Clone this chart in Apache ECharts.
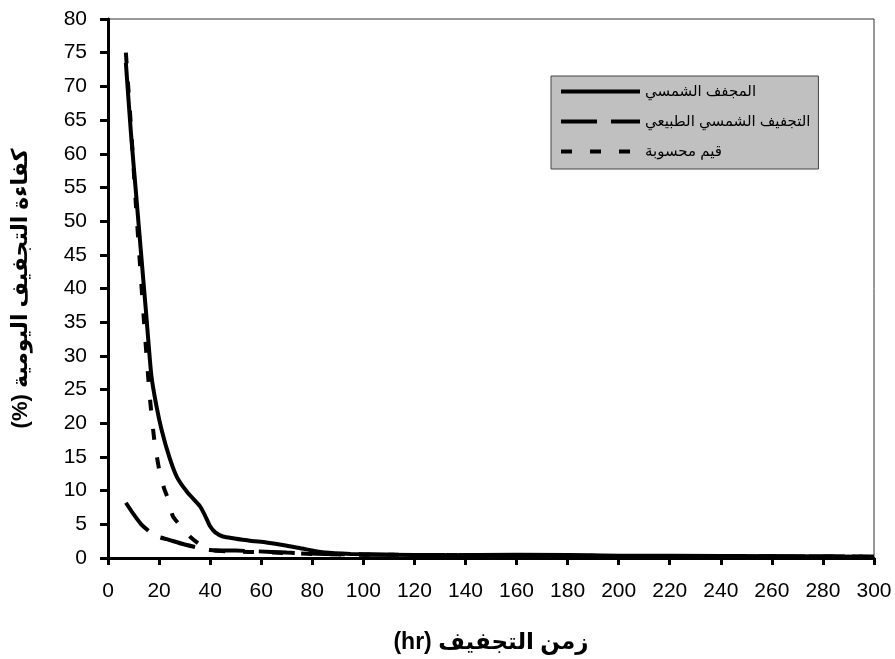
<!DOCTYPE html>
<html>
<head>
<meta charset="utf-8">
<script src="https://cdn.jsdelivr.net/npm/echarts@6/dist/echarts.min.js"></script>
<style>
    html, body { margin: 0; padding: 0; background: #fff; }
    .box { width: 895px; height: 659px; }
</style>
</head>
<body>
<div class="box"></div>
<script>
//*****数据
var seriesNames = ['المجفف الشمسي', 'التجفيف الشمسي الطبيعي', 'قيم محسوبة']

// المجفف الشمسي
var solarX = [7, 9, 11, 13, 15, 17, 19, 21, 24, 27, 31, 36, 38, 40, 42, 45, 55, 62, 69, 76, 85, 95, 110, 130, 160, 200, 240, 300]
var solarY = [73.5, 63, 54, 45, 36, 27, 22.5, 19, 15, 12, 9.8, 7.7, 6.3, 4.7, 3.8, 3.2, 2.6, 2.3, 1.9, 1.4, 0.8, 0.6, 0.5, 0.4, 0.5, 0.35, 0.3, 0.2]

// التجفيف الشمسي الطبيعي
var naturalX = [7, 10, 13, 16, 17.5, 20, 23, 30, 40, 50, 58, 70, 85, 100, 150, 200, 300]
var naturalY = [8.2, 6.5, 5, 4, 3.6, 3.1, 2.8, 2.0, 1.2, 1.1, 1.0, 0.8, 0.6, 0.5, 0.4, 0.3, 0.2]

// قيم محسوبة
var calcX = [7, 9, 11, 13, 14.5, 16.3, 18.2, 20.2, 22, 24.1, 25.4, 29, 32.6, 36, 39.8, 46.8, 55, 65, 80, 100, 150, 200, 300]
var calcY = [75, 64, 52, 41, 33, 24.2, 17.3, 12.8, 10.3, 8.2, 6.2, 4.5, 3.0, 2.0, 1.2, 1.0, 0.9, 0.8, 0.6, 0.5, 0.4, 0.3, 0.2]

var xTitle = '(hr) زمن التجفيف'
var yTitle = '(%) كفاءة التجفيف اليومية'

function pairs(xs, ys) {
    var out = []
    for (var i in xs) {
        out.push([xs[i], ys[i]])
    }
    return out
}

//*****曲线图
function line() {
    var myChart = echarts.init(document.querySelector('.box'))
    var font = 'Liberation Sans, Arial, DejaVu Sans, sans-serif'
    myChart.setOption({
        animation: false,
        textStyle: { fontFamily: font, color: '#000' },
        grid: {
            left: 108,
            right: 21,
            top: 19,
            bottom: 101,
            show: true,
            borderColor: '#333',
            borderWidth: 1
        },
        legend: {
            orient: 'vertical',
            left: 551,
            top: 76,
            padding: [8, 8, 10, 8],
            itemWidth: 79,
            itemHeight: 14,
            itemGap: 15,
            backgroundColor: '#c0c0c0',
            borderColor: '#444',
            borderWidth: 1,
            lineStyle: { width: 4 },
            itemStyle: { opacity: 0 },
            textStyle: { fontSize: 15, color: '#000', fontFamily: font },
            data: seriesNames
        },
        xAxis: {
            type: 'value',
            min: 0,
            max: 300,
            interval: 20,
            name: xTitle,
            nameLocation: 'middle',
            nameGap: 73,
            nameTextStyle: { fontSize: 23, fontWeight: 'bold', color: '#000' },
            splitLine: { show: false },
            axisLine: { lineStyle: { color: '#000', width: 3 } },
            axisTick: { length: 7, lineStyle: { color: '#000', width: 3 } },
            axisLabel: { fontSize: 21, color: '#000', margin: 23 }
        },
        yAxis: {
            type: 'value',
            min: 0,
            max: 80,
            interval: 5,
            name: yTitle,
            nameLocation: 'middle',
            nameRotate: 90,
            nameGap: 76,
            nameTextStyle: { fontSize: 22, fontWeight: 'bold', color: '#000' },
            splitLine: { show: false },
            axisLine: { show: true, lineStyle: { color: '#000', width: 3 } },
            axisTick: { show: true, length: 8, lineStyle: { color: '#000', width: 3 } },
            axisLabel: { fontSize: 21, color: '#000', margin: 21 }
        },
        series: [{
            name: seriesNames[0],
            type: 'line',
            data: pairs(solarX, solarY),
            symbol: 'none',
            smooth: 0.2,
            z: 3,
            lineStyle: { color: '#000', width: 4, type: 'solid' },
            itemStyle: { color: '#000' }
        }, {
            name: seriesNames[1],
            type: 'line',
            data: pairs(naturalX, naturalY),
            symbol: 'none',
            smooth: 0.2,
            z: 2,
            lineStyle: { color: '#000', width: 4, type: [36, 14] },
            itemStyle: { color: '#000' }
        }, {
            name: seriesNames[2],
            type: 'line',
            data: pairs(calcX, calcY),
            symbol: 'none',
            smooth: 0.2,
            z: 4,
            lineStyle: { color: '#000', width: 4, type: [11, 18] },
            itemStyle: { color: '#000' }
        }]
    })
}

line()
</script>
</body>
</html>
